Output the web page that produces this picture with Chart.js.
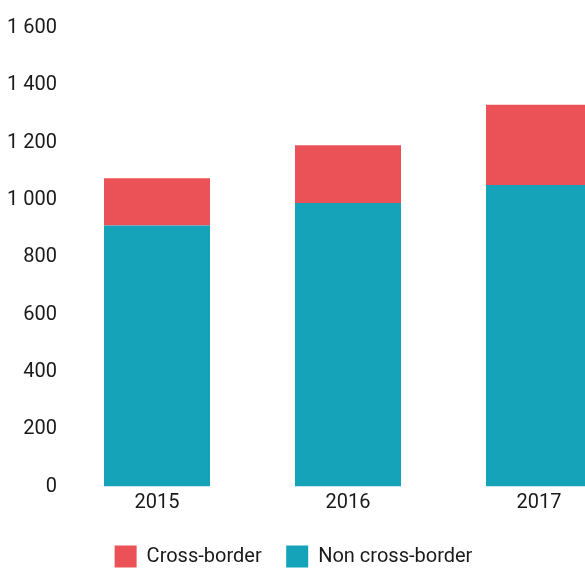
<!DOCTYPE html>
<html>
<head>
<meta charset="utf-8">
<script src="https://cdn.jsdelivr.net/npm/chart.js@4"></script>
<style>
  html, body { margin: 0; padding: 0; background: #fff; overflow: hidden; width: 585px; height: 568px; }
  #wrap { position: absolute; left: 0; top: 0; width: 640px; height: 603px; }
</style>
</head>
<body>
<div id="wrap"><canvas id="c" width="640" height="603"></canvas></div>
<script>
const categories = ['2015', '2016', '2017'];
const crossBorder = [165, 202, 280];
const nonCrossBorder = [911, 989, 1052];
const yTickLabels = ['0', '200', '400', '600', '800', '1 000', '1 200', '1 400', '1 600'];

const FONT = "'Roboto', 'Liberation Sans', sans-serif";
const FONT_SIZE = 20;
const RED = '#EB5257';
const TEAL = '#15A3B9';
const LEGEND_TOP = 521;

const legendPlacer = {
  id: 'legendPlacer',
  afterLayout(chart) {
    const lg = chart.legend;
    if (!lg) return;
    const h = lg.bottom - lg.top;
    lg.left = 0;
    lg.right = 587;
    lg.top = LEGEND_TOP;
    lg.bottom = LEGEND_TOP + h;
  }
};

new Chart(document.getElementById('c'), {
  type: 'bar',
  data: {
    labels: categories,
    datasets: [
      { label: 'Cross-border', data: crossBorder, backgroundColor: RED, order: 2 },
      { label: 'Non cross-border', data: nonCrossBorder, backgroundColor: TEAL, order: 1 }
    ]
  },
  options: {
    responsive: false,
    animation: false,
    devicePixelRatio: 1,
    layout: { padding: { top: 28, left: 0, right: 5.5, bottom: 0 } },
    datasets: { bar: { barPercentage: 0.555, categoryPercentage: 1.0, borderWidth: 0 } },
    plugins: {
      legend: {
        position: 'bottom',
        labels: {
          boxWidth: 22,
          boxHeight: 22,
          padding: 24.5,
          color: '#1a1a1a',
          font: { family: FONT, size: FONT_SIZE },
          sort: (a, b) => (a.datasetIndex - b.datasetIndex)
        }
      },
      tooltip: { enabled: false }
    },
    scales: {
      x: {
        stacked: true,
        grid: { display: false, drawTicks: false },
        border: { display: false },
        ticks: { color: '#1a1a1a', font: { family: FONT, size: FONT_SIZE }, padding: 4, maxRotation: 0 },
        afterFit: s => { s.height = 60; }
      },
      y: {
        stacked: true,
        min: 0,
        max: 1600,
        grid: { display: false, drawTicks: false },
        border: { display: false },
        ticks: {
          stepSize: 200,
          color: '#1a1a1a',
          font: { family: FONT, size: FONT_SIZE },
          padding: 4.5,
          callback: (v, i) => yTickLabels[i]
        },
        afterFit: s => { s.width = 61.5; }
      }
    }
  },
  plugins: [legendPlacer]
});
</script>
</body>
</html>
